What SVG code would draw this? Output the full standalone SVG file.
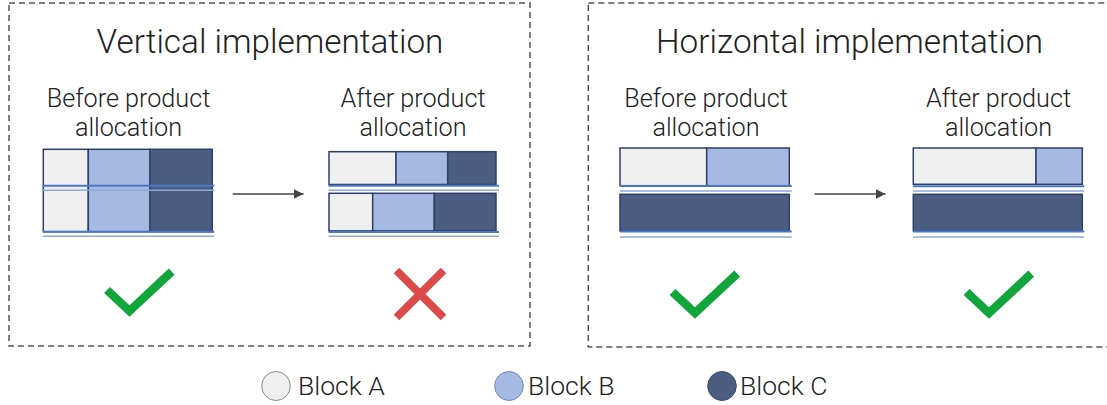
<svg xmlns="http://www.w3.org/2000/svg" width="1107" height="405" viewBox="0 0 1107 405">
  <defs>
    <style>
      .frame { fill: none; stroke: #555; stroke-width: 1.5; stroke-dasharray: 6 4; }
      .title { font-family: Roboto, "Liberation Sans", sans-serif; font-weight: 300; font-size: 33.3px; fill: #222; text-anchor: middle; }
      .sub { font-family: Roboto, "Liberation Sans", sans-serif; font-weight: 300; font-size: 25.2px; fill: #222; text-anchor: middle; }
      .legend { font-family: Roboto, "Liberation Sans", sans-serif; font-weight: 300; font-size: 26.5px; fill: #222; }
      .a { fill: #f0f0f0; stroke: #2e4068; stroke-width: 1.5; }
      .b { fill: #a6b9e2; stroke: #2e4068; stroke-width: 1.5; }
      .c { fill: #4b5d80; stroke: #2e4068; stroke-width: 1.5; }
      .edge { stroke: #4a78c8; stroke-width: 2; }
      .under { stroke: #8eaadc; stroke-width: 1.6; }
      .ok { fill: none; stroke: #12a53c; stroke-width: 8.5; stroke-linejoin: miter; stroke-linecap: butt; }
      .no { fill: none; stroke: #dc4a48; stroke-width: 8; stroke-linecap: butt; }
      .conn { stroke: #444; stroke-width: 1.4; fill: none; }
    </style>
    <marker id="head" viewBox="0 0 10 10" refX="10" refY="5" markerWidth="7" markerHeight="7" markerUnits="strokeWidth" orient="auto">
      <path d="M0,0 L10,5 L0,10 z" fill="#444"/>
    </marker>
  </defs>

  <rect width="1107" height="405" fill="#fff"/>

  <!-- Vertical implementation panel -->
  <g id="vertical">
    <rect class="frame" x="9" y="3" width="521" height="343"/>
    <text class="title" x="270" y="53">Vertical implementation</text>

    <g id="v-before">
      <text class="sub" x="128.5" y="107">Before product</text>
      <text class="sub" x="128.5" y="136">allocation</text>
      <rect class="a" x="43.3" y="149.3" width="45" height="82.4"/>
      <rect class="b" x="88.3" y="149.3" width="61.7" height="82.4"/>
      <rect class="c" x="150" y="149.3" width="62.3" height="82.4"/>
      <line class="edge" x1="43" y1="185.7" x2="214.3" y2="185.7"/>
      <line class="under" x1="43" y1="190.3" x2="214.3" y2="190.3"/>
      <line class="edge" x1="43" y1="231.7" x2="214.3" y2="231.7"/>
      <line class="under" x1="43" y1="236.3" x2="214.3" y2="236.3"/>
    </g>

    <g id="v-after">
      <text class="sub" x="413" y="107">After product</text>
      <text class="sub" x="413" y="136">allocation</text>
      <rect class="a" x="329" y="151.7" width="67" height="32.8"/>
      <rect class="b" x="396" y="151.7" width="51.7" height="32.8"/>
      <rect class="c" x="447.7" y="151.7" width="48.3" height="32.8"/>
      <line class="edge" x1="328.5" y1="185.7" x2="499" y2="185.7"/>
      <line class="under" x1="328.5" y1="190.3" x2="499" y2="190.3"/>
      <rect class="a" x="329" y="193.3" width="43.7" height="37.6"/>
      <rect class="b" x="372.7" y="193.3" width="61.6" height="37.6"/>
      <rect class="c" x="434.3" y="193.3" width="61.7" height="37.6"/>
      <line class="edge" x1="328.5" y1="232" x2="499" y2="232"/>
      <line class="under" x1="328.5" y1="236.3" x2="499" y2="236.3"/>
    </g>

    <g id="v-ok">
      <polyline class="ok" points="107,290 129.5,311 171.7,271.7"/>
    </g>
    <g id="v-fail">
      <line class="no" x1="396.5" y1="270.5" x2="443.5" y2="317.5"/>
      <line class="no" x1="443.5" y1="270.5" x2="396.5" y2="317.5"/>
    </g>
  </g>

  <!-- Horizontal implementation panel -->
  <g id="horizontal">
    <rect class="frame" x="588.3" y="3" width="525" height="344"/>
    <text class="title" x="849.5" y="53">Horizontal implementation</text>

    <g id="h-before">
      <text class="sub" x="706" y="107">Before product</text>
      <text class="sub" x="706" y="136">allocation</text>
      <rect class="a" x="620" y="148" width="86.7" height="37.7"/>
      <rect class="b" x="706.7" y="148" width="82.6" height="37.7"/>
      <line class="edge" x1="620" y1="186" x2="791.7" y2="186"/>
      <line class="under" x1="620" y1="191" x2="791.7" y2="191"/>
      <rect class="c" x="620" y="194.3" width="169.3" height="36.7"/>
      <line class="edge" x1="620" y1="231.5" x2="791.7" y2="231.5"/>
      <line class="under" x1="620" y1="237" x2="791.7" y2="237"/>
    </g>

    <g id="h-after">
      <text class="sub" x="998.5" y="107">After product</text>
      <text class="sub" x="998.5" y="136">allocation</text>
      <rect class="a" x="913.3" y="148" width="122.7" height="36.3"/>
      <rect class="b" x="1036" y="148" width="46.3" height="36.3"/>
      <line class="edge" x1="913" y1="186.3" x2="1084.3" y2="186.3"/>
      <line class="under" x1="913" y1="191" x2="1084.3" y2="191"/>
      <rect class="c" x="913.3" y="194.3" width="169" height="36.7"/>
      <line class="edge" x1="913" y1="231.5" x2="1084.3" y2="231.5"/>
      <line class="under" x1="913" y1="237" x2="1084.3" y2="237"/>
    </g>

    <g id="h-ok-before">
      <polyline class="ok" points="672.5,292 695,313 737.2,273.7"/>
    </g>
    <g id="h-ok-after">
      <polyline class="ok" points="966.5,292 989,313 1031.2,273.7"/>
    </g>
  </g>

  <!-- connectors -->
  <g id="connectors">
    <line class="conn" x1="232.7" y1="194" x2="303.5" y2="194" marker-end="url(#head)"/>
    <line class="conn" x1="814.5" y1="194" x2="885.5" y2="194" marker-end="url(#head)"/>
  </g>

  <!-- legend -->
  <g id="legend">
    <g id="legend-a">
      <ellipse cx="276" cy="386" rx="14.3" ry="14.5" fill="#f0f0f0" stroke="#8a8a8a" stroke-width="1"/>
      <text class="legend" x="298" y="395">Block A</text>
    </g>
    <g id="legend-b">
      <ellipse cx="509" cy="386" rx="14.3" ry="14.5" fill="#a6b9e2" stroke="#7488bb" stroke-width="1"/>
      <text class="legend" x="528" y="395">Block B</text>
    </g>
    <g id="legend-c">
      <ellipse cx="722" cy="386" rx="14.3" ry="14.5" fill="#4b5d80" stroke="#3a4a6c" stroke-width="1"/>
      <text class="legend" x="740" y="395">Block C</text>
    </g>
  </g>
</svg>
